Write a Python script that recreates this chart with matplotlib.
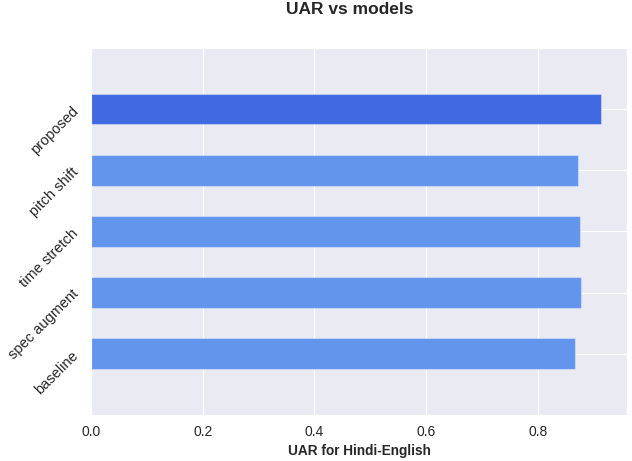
import matplotlib
matplotlib.use("Agg")
import matplotlib.pyplot as plt
import seaborn as sns

models = ["baseline", "spec augment", "time stretch", "pitch shift", "proposed"]
uar = [0.867, 0.878, 0.875, 0.872, 0.914]
colors = ["cornflowerblue", "cornflowerblue", "cornflowerblue", "cornflowerblue", "royalblue"]

sns.set_style("darkgrid")
plt.rcParams["font.family"] = ["Liberation Sans", "DejaVu Sans"]

fig, ax = plt.subplots(figsize=(6.32, 4.61), dpi=100)
fig.subplots_adjust(left=0.144, right=0.992, top=0.896, bottom=0.1)

ax.barh(range(len(models)), uar, height=0.5, color=colors,
        edgecolor=(1, 1, 1, 0.35), linewidth=0.8, zorder=2)
ax.set_yticks(range(len(models)))
ax.set_yticklabels(models, rotation=45, fontsize=10.5, color="#262626")
ax.tick_params(axis="x", labelsize=10, colors="#262626")
ax.set_ylim(-1, 5)
ax.set_xlabel("UAR for Hindi-English", fontsize=9.8, fontweight="bold", color="#262626")
fig.text(350 / 632, 0.995, "UAR vs models", ha="center", va="top",
         fontsize=12.5, fontweight="bold", color="#262626")

fig.savefig("out.png", dpi=100)
